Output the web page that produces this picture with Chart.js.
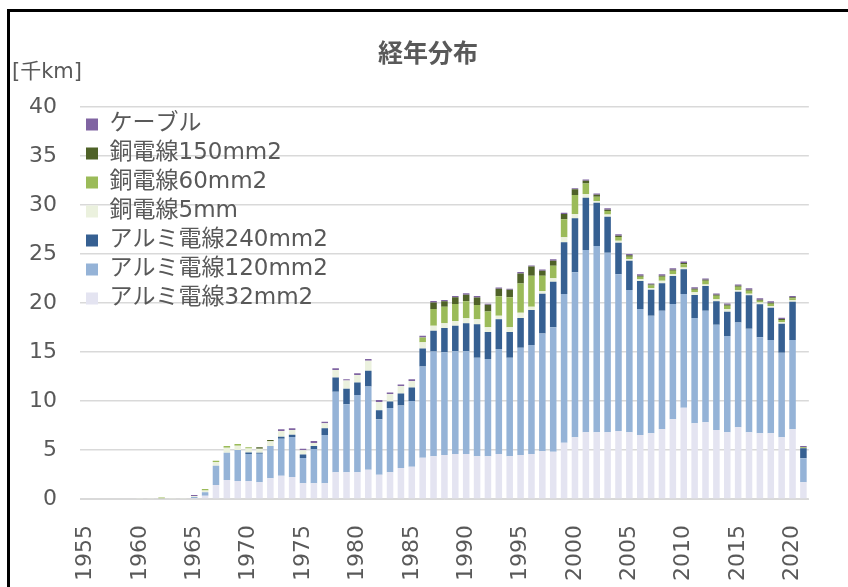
<!DOCTYPE html>
<html lang="ja">
<head>
<meta charset="utf-8">
<title>経年分布</title>
<script src="https://cdn.jsdelivr.net/npm/chart.js@4/dist/chart.umd.min.js"></script>
<style>
    html, body { margin: 0; padding: 0; background: #fff; overflow: hidden; }
    #wrap { position: relative; width: 848px; height: 587px; }
    #frame {
        position: absolute; left: 7px; top: 9px; width: 900px; height: 700px;
        border-top: 3px solid #000; border-left: 3px solid #000; pointer-events: none;
    }
</style>
</head>
<body>
<div id="wrap">
    <canvas id="main-chart" width="848" height="587"></canvas>
    <div id="frame"></div>
</div>
<script>
// 1955 - 2021
const years = [];
for (let y = 1955; y <= 2021; y++) years.push(String(y));

// [千km]
const al32 = [
    0, 0, 0, 0, 0, 0, 0, 0, 0, 0,
    0.1, 0.34, 1.43, 1.94, 1.84, 1.84, 1.7, 2.11, 2.38, 2.24,
    1.6, 1.6, 1.6, 2.72, 2.72, 2.72, 2.99, 2.48, 2.72, 3.16,
    3.3, 4.22, 4.35, 4.49, 4.59, 4.59, 4.35, 4.35, 4.59, 4.35,
    4.49, 4.59, 4.86, 4.83, 5.75, 6.29, 6.8, 6.8, 6.8, 6.94,
    6.8, 6.53, 6.7, 7.11, 8.13, 9.32, 7.72, 7.82, 7.04, 6.8,
    7.31, 6.8, 6.7, 6.7, 6.29, 7.11, 1.7,
];
const al120 = [
    0, 0, 0, 0, 0, 0, 0, 0, 0, 0,
    0.1, 0.34, 1.97, 2.79, 3.16, 2.76, 2.93, 3.3, 3.78, 4.08,
    2.59, 3.5, 4.93, 8.23, 6.94, 7.89, 8.5, 5.65, 6.56, 6.39,
    6.7, 9.29, 10.71, 10.48, 10.48, 10.48, 10.07, 9.93, 10.71, 10.07,
    10.95, 11.12, 12.04, 12.69, 15.17, 16.84, 18.6, 19.01, 18.33, 15.99,
    14.52, 12.86, 12.0, 12.11, 11.77, 11.6, 10.75, 11.39, 10.75, 9.83,
    10.71, 10.58, 9.8, 9.52, 8.64, 9.12, 2.45,
];
const al240 = [
    0, 0, 0, 0, 0, 0, 0, 0, 0, 0,
    0, 0, 0, 0, 0, 0.14, 0.1, 0, 0.2, 0.24,
    0.34, 0.31, 0.68, 1.46, 1.6, 1.29, 1.6, 0.92, 0.68, 1.22,
    1.39, 1.84, 2.11, 2.48, 2.62, 2.86, 3.4, 2.76, 3.03, 2.62,
    3.03, 3.57, 4.05, 4.66, 5.27, 5.51, 5.34, 4.42, 3.67, 3.23,
    2.99, 2.86, 2.65, 2.79, 2.86, 2.52, 2.35, 2.52, 2.38, 2.48,
    3.13, 3.4, 3.37, 3.3, 2.96, 3.91, 1.02,
];
const cu5 = [
    0, 0, 0, 0, 0, 0.1, 0.1, 0, 0.1, 0.1,
    0.1, 0.2, 0.37, 0.51, 0.44, 0.41, 0.41, 0.48, 0.58, 0.48,
    0.44, 0.31, 0.51, 0.75, 0.82, 0.75, 1.02, 0.85, 0.75, 0.75,
    0.65, 0.65, 0.51, 0.48, 0.48, 0.51, 0.51, 0.48, 0.37, 0.48,
    0.54, 0.34, 0.27, 0.34, 0.51, 0.44, 0.37, 0.17, 0.24, 0.2,
    0.17, 0.17, 0.17, 0.27, 0.2, 0.17, 0.27, 0.17, 0.2, 0.27,
    0.17, 0.17, 0.17, 0.17, 0.17, 0.14, 0,
];
const cu60 = [
    0, 0, 0, 0, 0, 0, 0, 0.15, 0, 0,
    0, 0.14, 0.14, 0.17, 0.17, 0.14, 0, 0, 0, 0,
    0, 0, 0, 0, 0, 0, 0, 0, 0, 0,
    0, 0.48, 1.7, 1.7, 1.73, 1.73, 1.46, 1.6, 2.0, 3.06,
    2.99, 3.16, 1.56, 1.29, 1.84, 1.94, 1.09, 0.44, 0.34, 0.37,
    0.24, 0.27, 0.27, 0.41, 0.34, 0.34, 0.27, 0.37, 0.37, 0.34,
    0.34, 0.31, 0.2, 0.24, 0.2, 0.2, 0.1,
];
const cu150 = [
    0, 0, 0, 0, 0, 0, 0, 0, 0, 0,
    0, 0, 0, 0, 0, 0, 0.14, 0.14, 0, 0,
    0, 0, 0, 0, 0, 0, 0, 0, 0, 0,
    0, 0, 0.68, 0.54, 0.68, 0.68, 0.78, 0.71, 0.75, 0.78,
    1.02, 0.95, 0.51, 0.51, 0.54, 0.58, 0.27, 0.2, 0.14, 0.14,
    0.14, 0.1, 0.1, 0.1, 0.1, 0.14, 0.1, 0.1, 0.1, 0.1,
    0.1, 0.1, 0.1, 0.1, 0.1, 0.1, 0,
];
const cable = [
    0, 0, 0, 0, 0, 0, 0, 0, 0, 0,
    0.1, 0, 0, 0, 0, 0, 0, 0, 0.17, 0.17,
    0.17, 0.2, 0.17, 0.17, 0.14, 0.17, 0.17, 0.2, 0.17, 0.17,
    0.17, 0.17, 0.14, 0.14, 0.14, 0.14, 0.14, 0.1, 0.14, 0.1,
    0.14, 0.1, 0.14, 0.14, 0.14, 0.1, 0.14, 0.14, 0.14, 0.14,
    0.14, 0.14, 0.1, 0.14, 0.14, 0.14, 0.14, 0.14, 0.14, 0.14,
    0.14, 0.14, 0.14, 0.14, 0.14, 0.14, 0.14,
];

const series_names = ["アルミ電線32mm2", "アルミ電線120mm2", "アルミ電線240mm2", "銅電線5mm", "銅電線60mm2", "銅電線150mm2", "ケーブル"];
const series_colors = ["#e4e4f1", "#95b3d7", "#366092", "#ebf1de", "#9bbb59", "#4f6228", "#8064a2"];
const y_ticks = [0, 5, 10, 15, 20, 25, 30, 35, 40];

const FONT = '"DejaVu Sans", "Noto Sans CJK JP", sans-serif';
const TEXT = "#595959";

Chart.defaults.font.family = FONT;
Chart.defaults.color = TEXT;

// legend in "chartArea" mode keeps top = 0 when vertical, push it down onto the plot
const legend_ke_area = {
    id: "legend_ke_area",
    afterLayout(chart) {
        const lg = chart.legend;
        if (!lg) return;
        const dy = chart.chartArea.top - lg.top;
        lg.top += dy;
        lg.bottom += dy;
    },
};

const buat_chart = () => {
    const ctx = document.getElementById("main-chart").getContext("2d");
    const values = [al32, al120, al240, cu5, cu60, cu150, cable];

    return new Chart(ctx, {
        type: "bar",
        data: {
            labels: years,
            datasets: values.map((data, i) => ({
                label: series_names[i],
                data: data,
                backgroundColor: series_colors[i],
                borderWidth: 0,
                categoryPercentage: 1,
                barPercentage: 0.6,
            })),
        },
        plugins: [legend_ke_area],
        options: {
            responsive: false,
            animation: false,
            layout: {
                padding: { left: 12, right: 4, top: 0, bottom: 0 },
            },
            plugins: {
                tooltip: { enabled: false },
                title: {
                    display: true,
                    text: "経年分布",
                    color: TEXT,
                    font: { family: '"Noto Sans CJK JP", sans-serif', size: 25, weight: "bold", lineHeight: 0.6 },
                    padding: { top: 44.5, bottom: 0 },
                },
                subtitle: {
                    display: true,
                    text: "[千km]",
                    align: "start",
                    color: TEXT,
                    font: { size: 21, lineHeight: 1 },
                    padding: { top: 3, bottom: 23.5 },
                },
                legend: {
                    position: "chartArea",
                    align: "start",
                    reverse: true,
                    labels: {
                        boxWidth: 12,
                        boxHeight: 12,
                        padding: 6,
                        color: TEXT,
                        font: { size: 23 },
                    },
                },
            },
            scales: {
                x: {
                    stacked: true,
                    grid: { display: false },
                    border: { color: "#d9d9d9", width: 1 },
                    ticks: {
                        autoSkip: false,
                        minRotation: 90,
                        maxRotation: 90,
                        padding: 18,
                        color: TEXT,
                        font: { size: 22 },
                        callback: function (value) {
                            const label = this.getLabelForValue(value);
                            return Number(label) % 5 === 0 ? label : "";
                        },
                    },
                    afterFit: (scale) => { scale.height = 88; },
                },
                y: {
                    stacked: true,
                    min: 0,
                    max: 40,
                    afterBuildTicks: (scale) => { scale.ticks = y_ticks.map((v) => ({ value: v })); },
                    grid: { color: "#d9d9d9", lineWidth: 1.5, drawTicks: false },
                    border: { display: false },
                    ticks: { padding: 23, color: TEXT, font: { size: 22 } },
                    afterFit: (scale) => { scale.width = 68; },
                },
                y2: {
                    position: "right",
                    display: true,
                    grid: { display: false, drawTicks: false },
                    border: { display: false },
                    ticks: { display: false },
                    afterFit: (scale) => { scale.width = 21; },
                },
            },
        },
    });
};

document.addEventListener("DOMContentLoaded", () => {
    buat_chart();
});
</script>
</body>
</html>
